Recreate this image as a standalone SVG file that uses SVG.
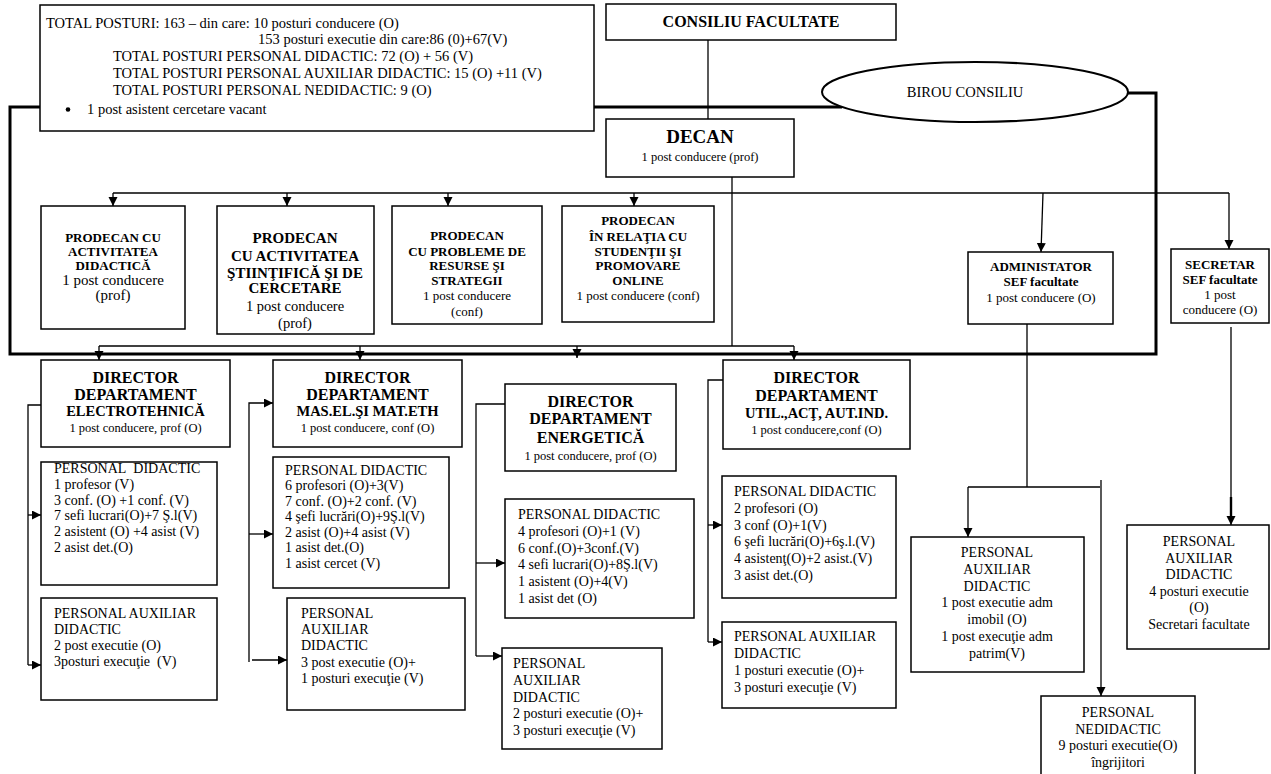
<svg xmlns="http://www.w3.org/2000/svg" width="1271" height="774" viewBox="0 0 1271 774">
<style>
.bx{fill:#fff;stroke:#000;stroke-width:1.5}
.t{font-family:"Liberation Serif","Times New Roman",serif;fill:#000}
.b{font-weight:bold}
.c{text-anchor:middle}
.thin{fill:none;stroke:#000;stroke-width:1.3}
.thick{fill:none;stroke:#000;stroke-width:3}
.s12{font-size:12.5px}.s13{font-size:13px}.s14{font-size:14px}.s145{font-size:14.5px}.s15{font-size:15px}.s16{font-size:16px}.s19{font-size:19px}
</style>
<defs>
<marker id="ah" markerUnits="userSpaceOnUse" markerWidth="10" markerHeight="10" refX="9" refY="4.5" orient="auto">
<path d="M0,0 L9,4.5 L0,9 z" fill="#000"/>
</marker>
</defs>
<rect width="1271" height="774" fill="#fff"/>
<g id="connectors">
<path class="thick" d="M42,107 H10 V354 H1156 V93 H1128"/>
<path class="thick" d="M594,107 H842"/>
<path class="thin" d="M708,34 V119"/>
<path class="thin" d="M732,177 V346"/>
<path class="thin" d="M113,193 H1229"/>
<path class="thin" marker-end="url(#ah)" d="M113,193 V206"/>
<path class="thin" marker-end="url(#ah)" d="M287,193 V206"/>
<path class="thin" marker-end="url(#ah)" d="M448,193 V206"/>
<path class="thin" marker-end="url(#ah)" d="M634,193 V206"/>
<path class="thin" marker-end="url(#ah)" d="M1043,193 L1041,252"/>
<path class="thin" marker-end="url(#ah)" d="M1229,193 V249"/>
<path class="thin" d="M99,346 H794"/>
<path class="thin" marker-end="url(#ah)" d="M99,346 V360"/>
<path class="thin" marker-end="url(#ah)" d="M360,346 V360"/>
<path class="thin" marker-end="url(#ah)" d="M577,346 V358"/>
<path class="thin" marker-end="url(#ah)" d="M794,346 V360"/>
<path class="thin" d="M41,405 H28 V665"/>
<path class="thin" marker-end="url(#ah)" d="M28,515 H41"/>
<path class="thin" marker-end="url(#ah)" d="M28,665 H41"/>
<path class="thin" marker-end="url(#ah)" d="M249,662 V403 H273"/>
<path class="thin" marker-end="url(#ah)" d="M249,534 H273"/>
<path class="thin" marker-end="url(#ah)" d="M252,660 H287"/>
<path class="thin" d="M505,404 H476 V656"/>
<path class="thin" marker-end="url(#ah)" d="M476,563 H505"/>
<path class="thin" marker-end="url(#ah)" d="M476,656 H502"/>
<path class="thin" d="M723,380 H708 V642"/>
<path class="thin" marker-end="url(#ah)" d="M708,525 H722"/>
<path class="thin" marker-end="url(#ah)" d="M708,642 H722"/>
<path class="thin" d="M1027,324 V487 M968,487 H1100"/>
<path class="thin" marker-end="url(#ah)" d="M968,487 V537"/>
<path class="thin" marker-end="url(#ah)" d="M1101,480 V696"/>
<path class="thin" marker-end="url(#ah)" d="M1231,327 V525"/>
<path fill="none" stroke="#000" stroke-width="2.4" d="M1231,497 V518"/>
</g>
<g id="info">
<rect class="bx" x="40" y="5" width="554" height="126"/>
<g class="t s145">
<text x="46" y="28">TOTAL POSTURI: 163 – din care: 10 posturi conducere (O)</text>
<text x="258" y="44">153 posturi executie din care:86 (0)+67(V)</text>
<text x="113" y="61">TOTAL POSTURI PERSONAL DIDACTIC: 72 (O) + 56 (V)</text>
<text x="113" y="78">TOTAL POSTURI PERSONAL AUXILIAR DIDACTIC: 15 (O) +11 (V)</text>
<text x="113" y="94.5">TOTAL POSTURI PERSONAL NEDIDACTIC: 9 (O)</text>
<text x="87" y="114">1 post asistent cercetare vacant</text>
</g>
<circle cx="68" cy="109.5" r="2.3" fill="#000"/>
</g>
<g id="consiliu">
<rect class="bx" x="606" y="4" width="290" height="36"/>
<text class="t b c s16" x="751" y="27">CONSILIU FACULTATE</text>
</g>
<g id="birou">
<ellipse cx="975" cy="92" rx="153" ry="30" fill="#fff" stroke="#000" stroke-width="2"/>
<text class="t c s145" x="965" y="97">BIROU CONSILIU</text>
</g>
<g id="decan">
<rect class="bx" x="606" y="119" width="188" height="58"/>
<text class="t b c s19" x="700" y="143">DECAN</text>
<text class="t c s12" x="700" y="161">1 post conducere (prof)</text>
</g>
<g id="prodecan1">
<rect class="bx" x="41" y="206" width="144" height="123"/>
<g class="t b c s13"><text x="113" y="242">PRODECAN CU</text><text x="113" y="256">ACTIVITATEA</text><text x="113" y="270">DIDACTICĂ</text></g>
<g class="t c s15"><text x="113" y="285">1 post conducere</text><text x="113" y="300">(prof)</text></g>
</g>
<g id="prodecan2">
<rect class="bx" x="217" y="206" width="157" height="128"/>
<g class="t b c s15"><text x="295" y="243">PRODECAN</text><text x="295" y="261">CU ACTIVITATEA</text><text x="295" y="278">ŞTIINŢIFICĂ ŞI DE</text><text x="295" y="293">CERCETARE</text></g>
<g class="t c s145"><text x="295" y="311">1 post conducere</text><text x="295" y="328">(prof)</text></g>
</g>
<g id="prodecan3">
<rect class="bx" x="392" y="206" width="150" height="118"/>
<g class="t b c s13"><text x="467" y="240">PRODECAN</text><text x="467" y="256">CU PROBLEME DE</text><text x="467" y="270">RESURSE ŞI</text><text x="467" y="285">STRATEGII</text></g>
<g class="t c s13"><text x="467" y="300">1 post conducere</text><text x="467" y="316">(conf)</text></g>
</g>
<g id="prodecan4">
<rect class="bx" x="562" y="206" width="152" height="116"/>
<g class="t b c s13"><text x="638" y="225">PRODECAN</text><text x="638" y="241">ÎN RELAŢIA CU</text><text x="638" y="256">STUDENŢII ŞI</text><text x="638" y="270">PROMOVARE</text><text x="638" y="285">ONLINE</text></g>
<text class="t c s13" x="638" y="300">1 post conducere (conf)</text>
</g>
<g id="administrator">
<rect class="bx" x="968" y="252" width="145" height="72"/>
<g class="t b c s13"><text x="1041" y="270.5">ADMINISTATOR</text><text x="1041" y="285.5">SEF facultate</text></g>
<text class="t c s13" x="1041" y="301.5">1 post conducere (O)</text>
</g>
<g id="secretar">
<rect class="bx" x="1171" y="249" width="98" height="74"/>
<g class="t b c s13"><text x="1220" y="268.5">SECRETAR</text><text x="1220" y="283.5">SEF facultate</text></g>
<g class="t c s13"><text x="1220" y="298.5">1 post</text><text x="1220" y="313.5">conducere (O)</text></g>
</g>
<g id="dir1">
<rect class="bx" x="41" y="360" width="189" height="87"/>
<g class="t b c s16"><text x="135.5" y="382.5">DIRECTOR</text><text x="135.5" y="399.5">DEPARTAMENT</text></g>
<text class="t b c s145" x="135.5" y="416">ELECTROTEHNICĂ</text>
<text class="t c s12" x="135.5" y="431.5">1 post conducere, prof (O)</text>
</g>
<g id="dir2">
<rect class="bx" x="273" y="360" width="189" height="87"/>
<g class="t b c s16"><text x="367.5" y="382.5">DIRECTOR</text><text x="367.5" y="399.5">DEPARTAMENT</text></g>
<text class="t b c s145" x="367.5" y="416">MAS.EL.ŞI MAT.ETH</text>
<text class="t c s12" x="367.5" y="431.5">1 post conducere, conf (O)</text>
</g>
<g id="dir3">
<rect class="bx" x="505" y="384" width="171" height="87"/>
<g class="t b c s16"><text x="590.5" y="407">DIRECTOR</text><text x="590.5" y="424">DEPARTAMENT</text><text x="590.5" y="443">ENERGETICĂ</text></g>
<text class="t c s12" x="590.5" y="460">1 post conducere, prof (O)</text>
</g>
<g id="dir4">
<rect class="bx" x="723" y="360" width="187" height="89"/>
<g class="t b c s16"><text x="816.5" y="382.5">DIRECTOR</text><text x="816.5" y="400.5">DEPARTAMENT</text></g>
<text class="t b c s145" x="816.5" y="418">UTIL.,ACŢ, AUT.IND.</text>
<text class="t c s12" x="816.5" y="434">1 post conducere,conf (O)</text>
</g>
<g id="pd1">
<rect class="bx" x="41" y="462" width="176" height="123"/>
<g class="t s14"><text x="54" y="473">PERSONAL&#160; DIDACTIC</text><text x="54" y="488.8">1 profesor (V)</text><text x="54" y="504.6">3 conf. (O) +1 conf. (V)</text><text x="54" y="520.4">7 sefi lucrari(O)+7 Ş.l(V)</text><text x="54" y="536.2">2 asistent (O) +4 asist (V)</text><text x="54" y="552">2 asist det.(O)</text></g>
</g>
<g id="pad1">
<rect class="bx" x="41" y="598" width="176" height="102"/>
<g class="t s14"><text x="54" y="618">PERSONAL AUXILIAR</text><text x="54" y="634">DIDACTIC</text><text x="54" y="650">2 post executie (O)</text><text x="54" y="666">3posturi execuţie&#160; (V)</text></g>
</g>
<g id="pd2">
<rect class="bx" x="273" y="457" width="176" height="131"/>
<g class="t s14"><text x="285" y="474.5">PERSONAL DIDACTIC</text><text x="285" y="490">6 profesori (O)+3(V)</text><text x="285" y="505.5">7 conf. (O)+2 conf. (V)</text><text x="285" y="521">4 şefi lucrări(O)+9Ş.l(V)</text><text x="285" y="536.5">2 asist (O)+4 asist (V)</text><text x="285" y="552">1 asist det.(O)</text><text x="285" y="567.5">1 asist cercet (V)</text></g>
</g>
<g id="pad2">
<rect class="bx" x="287" y="598" width="178" height="112"/>
<g class="t s14"><text x="301" y="618">PERSONAL</text><text x="301" y="634.2">AUXILIAR</text><text x="301" y="650.4">DIDACTIC</text><text x="301" y="666.6">3 post executie (O)+</text><text x="301" y="682.8">1 posturi execuţie (V)</text></g>
</g>
<g id="pd3">
<rect class="bx" x="505" y="499" width="189" height="119"/>
<g class="t s14"><text x="518" y="519">PERSONAL DIDACTIC</text><text x="518" y="535.8">4 profesori (O)+1 (V)</text><text x="518" y="552.6">6 conf.(O)+3conf.(V)</text><text x="518" y="569.4">4 sefi lucrari(O)+8Ş.l(V)</text><text x="518" y="586.2">1 asistent (O)+4(V)</text><text x="518" y="603">1 asist det (O)</text></g>
</g>
<g id="pad3">
<rect class="bx" x="502" y="648" width="160" height="101"/>
<g class="t s14"><text x="513" y="668">PERSONAL</text><text x="513" y="684.8">AUXILIAR</text><text x="513" y="701.6">DIDACTIC</text><text x="513" y="718.4">2 posturi executie (O)+</text><text x="513" y="735.2">3 posturi execuţie (V)</text></g>
</g>
<g id="pd4">
<rect class="bx" x="722" y="476" width="174" height="122"/>
<g class="t s14"><text x="734" y="496">PERSONAL DIDACTIC</text><text x="734" y="512.8">2 profesori (O)</text><text x="734" y="529.6">3 conf (O)+1(V)</text><text x="734" y="546.4">6 şefi lucrări(O)+6ş.l.(V)</text><text x="734" y="563.2">4 asistenţ(O)+2 asist.(V)</text><text x="734" y="580">3 asist det.(O)</text></g>
</g>
<g id="pad4">
<rect class="bx" x="722" y="622" width="174" height="86"/>
<g class="t s14"><text x="734" y="641">PERSONAL AUXILIAR</text><text x="734" y="658">DIDACTIC</text><text x="734" y="675">1 posturi executie (O)+</text><text x="734" y="692">3 posturi execuţie (V)</text></g>
</g>
<g id="pad-admin">
<rect class="bx" x="911" y="537" width="173" height="135"/>
<g class="t c s14"><text x="997" y="557">PERSONAL</text><text x="997" y="573.8">AUXILIAR</text><text x="997" y="590.6">DIDACTIC</text><text x="997" y="607.4">1 post executie adm</text><text x="997" y="624.2">imobil (O)</text><text x="997" y="641">1 post execuţie adm</text><text x="997" y="657.8">patrim(V)</text></g>
</g>
<g id="nedidactic">
<rect class="bx" x="1041" y="696" width="154" height="82"/>
<g class="t c s14"><text x="1118" y="717">PERSONAL</text><text x="1118" y="733.7">NEDIDACTIC</text><text x="1118" y="750.4">9 posturi executie(O)</text><text x="1118" y="767.1">îngrijitori</text></g>
</g>
<g id="pad-secretar">
<rect class="bx" x="1127" y="525" width="142" height="124"/>
<g class="t c s14"><text x="1199" y="546">PERSONAL</text><text x="1199" y="562.6">AUXILIAR</text><text x="1199" y="579.2">DIDACTIC</text><text x="1199" y="595.8">4 posturi executie</text><text x="1199" y="612.4">(O)</text><text x="1199" y="629">Secretari facultate</text></g>
</g>
</svg>
